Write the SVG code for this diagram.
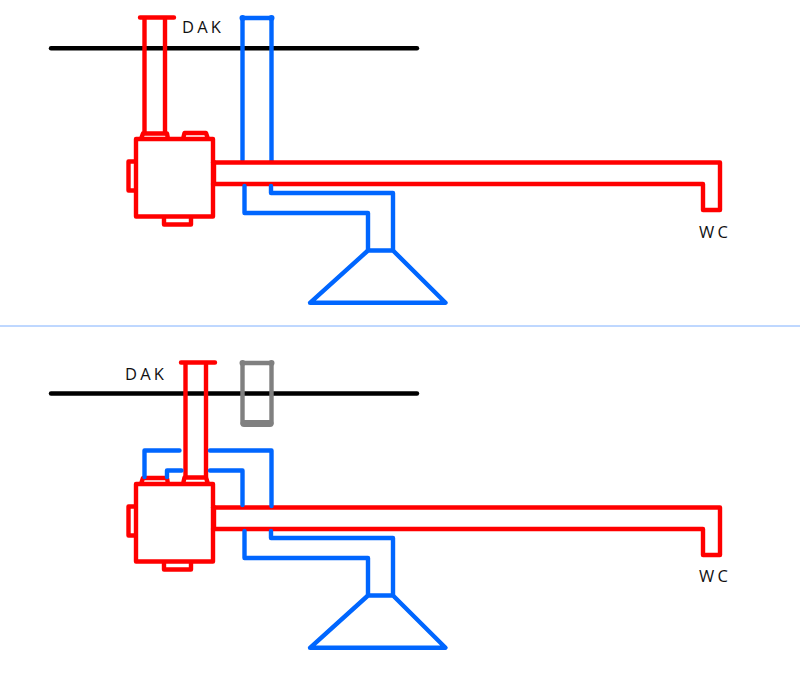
<svg xmlns="http://www.w3.org/2000/svg" width="800" height="680" viewBox="0 0 800 680">
<style>
.s{fill:none;stroke-width:4.4;stroke-linecap:round;stroke-linejoin:round}
.d{fill:none;stroke-width:6;stroke-linecap:round}
.r{stroke:#ff0000}.b{stroke:#0066ff}.k{stroke:#000}.g{stroke:#808080}
.t{font-family:"Open Sans","Liberation Sans",sans-serif;font-size:16.5px;letter-spacing:3.2px;fill:#111}
</style>
<rect width="800" height="680" fill="#fff"/>
<line x1="0" y1="326" x2="800" y2="326" stroke="#7fb0ff" stroke-width="1"/>
<g id="top-roof"><path class="s k" d="M51 48.300H417"/><text class="t" x="182" y="33">DAK</text></g>
<g id="top-unit" class="s r">
<path d="M136 139H213V216.500H136ZM141 139L143 133.500H167L168 139M183 139L184.500 133H206L208 139M136 161.500H128.500V190.500H136M164 217V224.500H191V217M214 162V184"/>
</g>
<g id="top-chimney" class="s r"><path d="M140 17.500H174M144.500 17.500V133M165 17.500V133"/></g>
<g id="top-vent"><path class="s b" d="M242.500 18H271.500M242.500 18V160M271.500 18V161"/><path class="d b" d="M242.500 18h.01M271.500 18h.01"/></g>
<g id="top-hood" class="s b"><path d="M368 250.500H393L445.500 302.800H310Z"/></g>
<g id="top-connectors">
<path class="s r" d="M213 162.500H720V210H703V184H213"/>
<path class="s b" d="M244.500 186V213H368V250M271 186V193H393V250"/>
</g>
<text id="top-wc" class="t" x="699" y="237.500">WC</text>

<g id="bottom-roof"><path class="s k" d="M51 393.500H417"/><text class="t" x="125" y="380">DAK</text></g>
<g id="bottom-unit" class="s r">
<path d="M136 484H213V561.500H136ZM141 484L143 478H167L168 484M183 484L184.500 477.500H206L208 484M136 506.500H128.500V535.500H136M164 562V569.500H191V562M214 507V529"/>
</g>
<g id="bottom-chimney" class="s r"><path d="M181 362.500H215M185.500 362.500V477M206 362.500V477"/></g>
<g id="bottom-vent"><path class="s g" d="M242.500 363H271.500M242.500 363V423.500M271.500 363V423.500"/><path class="d g" style="stroke-width:7" d="M244 423.500H270"/><path class="d g" d="M242.500 363h.01M271.500 363h.01"/></g>
<g id="bottom-hood" class="s b"><path d="M368 595.500H393L445.500 647.800H310Z"/></g>
<g id="bottom-connectors">
<path class="s r" d="M213 507.500H720V555H703V529H213"/>
<path class="s b" d="M144.500 477V450.500H179.500M210 450.500H271.500V506M167 477V470.500H181.500M210 470.500H242.500V505"/>
<path class="s b" d="M244.500 531V558H368V595M271 531V538H393V595"/>
</g>
<text id="bottom-wc" class="t" x="699" y="581.500">WC</text>
</svg>
